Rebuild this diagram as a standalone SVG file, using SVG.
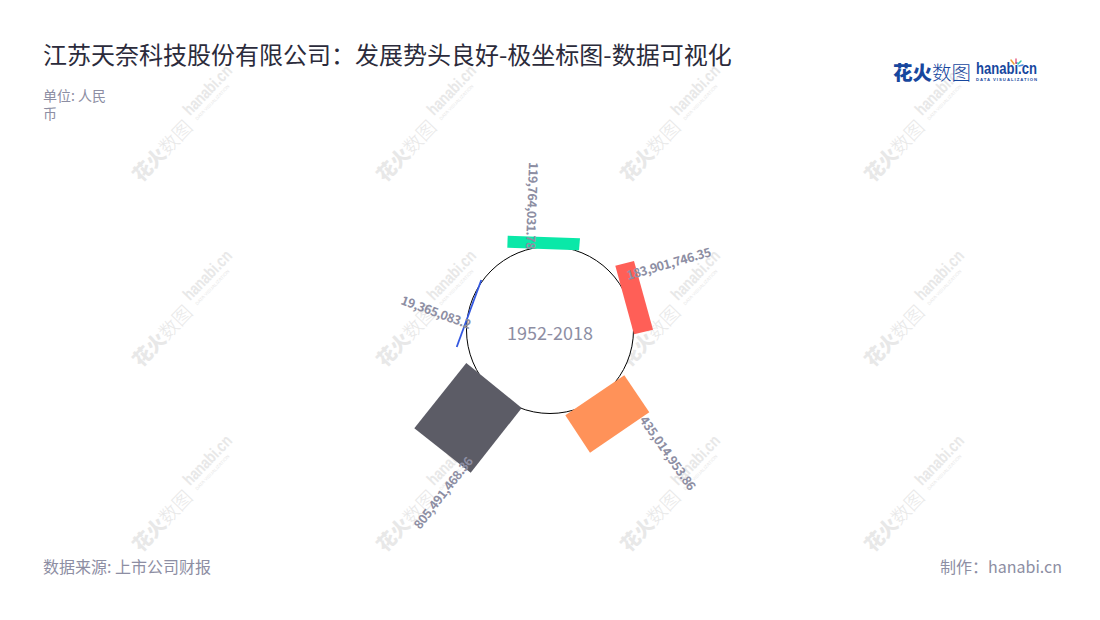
<svg xmlns="http://www.w3.org/2000/svg" xmlns:xlink="http://www.w3.org/1999/xlink" width="1100" height="620" viewBox="0 0 1100 620">
<style>
text{font-family:"Noto Sans CJK SC","Noto Sans",sans-serif}
.title{font-size:24px;fill:#2b2b3b}
.note{font-size:14px;fill:#8d8ea3}
.foot{font-size:16px;fill:#8d8ea3}
.val{font-size:12.5px;font-weight:700;fill:#8d8ea3;letter-spacing:-.45px}
.center{font-size:18px;fill:#8d8ea3;text-anchor:middle}
.wm1{font-size:19px;fill:#e8e8e8;font-weight:900}
.wm1b{font-weight:300}
.wm2{font-size:17px;fill:#e8e8e8;font-weight:700;font-family:"Liberation Sans",sans-serif}
.wm3{font-size:4.5px;fill:#e8e8e8;font-family:"Liberation Sans",sans-serif}
.lat{font-family:"Liberation Sans",sans-serif}
.spark{stroke-width:1.5;stroke-linecap:round}
</style>
<defs>
<g id="wm" transform="rotate(-46)">
<text class="wm1" x="0" y="0">花火<tspan class="wm1b">数图</tspan></text>
<text class="wm2" x="82" y="-11" textLength="62" lengthAdjust="spacingAndGlyphs">hanabi.cn</text>
<text class="wm3" x="84" y="-3" textLength="47">DATA VISUALIZATION</text>
</g>
</defs>
<rect width="1100" height="620" fill="#fff"/>
<g id="watermarks">
<use xlink:href="#wm" x="141" y="183"/><use xlink:href="#wm" x="385" y="183"/><use xlink:href="#wm" x="629" y="183"/><use xlink:href="#wm" x="873" y="183"/>
<use xlink:href="#wm" x="141" y="368"/><use xlink:href="#wm" x="385" y="368"/><use xlink:href="#wm" x="629" y="368"/><use xlink:href="#wm" x="873" y="368"/>
<use xlink:href="#wm" x="141" y="553"/><use xlink:href="#wm" x="385" y="553"/><use xlink:href="#wm" x="629" y="553"/><use xlink:href="#wm" x="873" y="553"/>
</g>
<text class="title" x="43" y="64">江苏天奈科技股份有限公司：发展势头良好-极坐标图-数据可视化</text>
<text class="note" x="43" y="101">单位: 人民</text>
<text class="note" x="43" y="119">币</text>
<g id="logo">
<text x="893" y="80" font-size="19.5" font-weight="900" fill="#17479e">花火<tspan font-weight="300">数图</tspan></text>
<text class="lat" x="976" y="74" font-size="16" font-weight="700" fill="#17479e" textLength="61" lengthAdjust="spacingAndGlyphs">hanabi.cn</text>
<text class="lat" x="976" y="81" font-size="4.2" font-weight="700" fill="#17479e" textLength="61">DATA VISUALIZATION</text>
<line class="spark" x1="1014" y1="64" x2="1011" y2="60" stroke="#f2a33a"/>
<line class="spark" x1="1016" y1="63" x2="1016" y2="59" stroke="#e8648a"/>
<line class="spark" x1="1018" y1="64" x2="1021" y2="61" stroke="#35c6a8"/>
<line class="spark" x1="1019" y1="66" x2="1023" y2="65" stroke="#4a8fe0"/>
</g>
<g id="axis"><circle cx="550" cy="330" r="83.5" fill="#fff" stroke="#000" stroke-width="1"/></g>
<g id="bars">
<polygon id="bar-green" points="507.7,235.7 580,238.3 579,250.3 507.3,247.7" fill="#0ae8a8"/>
<polygon id="bar-red" points="615.3,265.7 634,261 653,329.7 634,334.3" fill="#ff5f57"/>
<polygon id="bar-orange" points="624.3,375.3 649.3,412.3 590,452.7 565.3,415.3" fill="#ff9259"/>
<polygon id="bar-dark" points="466.3,363 521.7,408 470.7,472.7 414.3,428.3" fill="#5c5c66"/>
<line id="bar-blue" x1="481.3" y1="280" x2="456.7" y2="347" stroke="#3357e0" stroke-width="1.8"/>
</g>
<g id="labels">
<text class="val" transform="translate(529,162) rotate(92)">119,764,031.78</text>
<text class="val" transform="translate(628,280) rotate(-16)">183,901,746.35</text>
<text class="val" transform="translate(639,420) rotate(55)">435,014,953.86</text>
<text class="val" transform="translate(420,530) rotate(-52)">805,491,468.36</text>
<text class="val" transform="translate(400,304) rotate(20)">19,365,083.2</text>
</g>
<text class="center" x="550" y="340">1952-2018</text>
<text class="foot" x="43" y="573">数据来源: 上市公司财报</text>
<text class="foot" x="1062" y="573" text-anchor="end">制作：hanabi.cn</text>
</svg>
